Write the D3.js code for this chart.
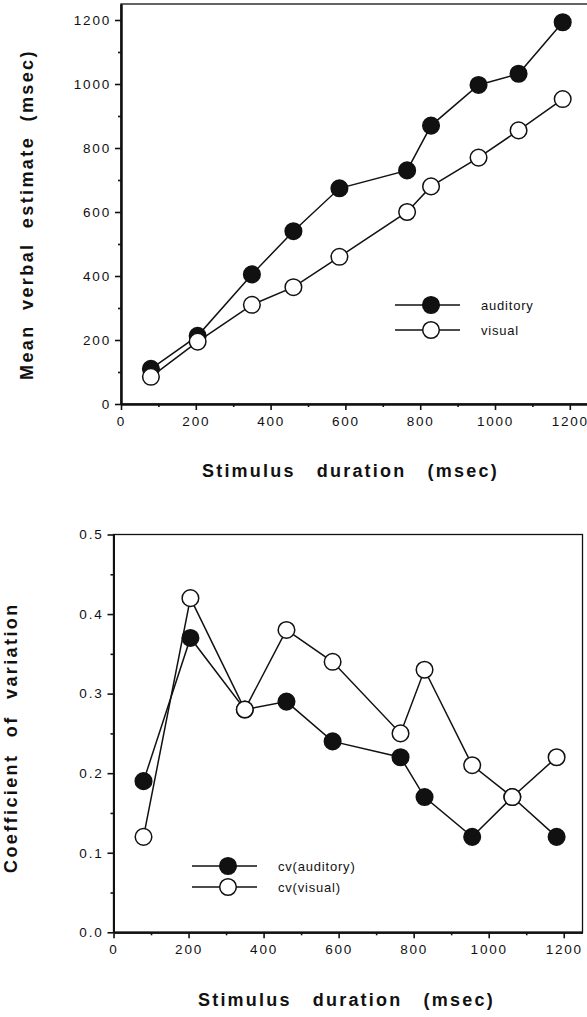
<!DOCTYPE html>
<html>
<head>
<meta charset="utf-8">
<script src="https://cdn.jsdelivr.net/npm/d3@7"></script>
<style>
  body { margin: 0; background: #fff; }
  svg { display: block; font-family: "Liberation Sans", Arial, sans-serif; }
</style>
</head>
<body>
<div id="viz-container"></div>
<script>
// stimulus durations (msec), shared by both panels
let durations = [80, 205, 350, 461, 584, 765, 829, 956, 1063, 1181];

// top panel: mean verbal estimate (msec)
let estAuditory = [110, 213, 405, 540, 674, 730, 870, 997, 1032, 1193];
let estVisual   = [85, 195, 310, 365, 460, 600, 680, 770, 855, 953];

// bottom panel: coefficient of variation
let cvAuditory = [0.19, 0.37, 0.28, 0.29, 0.24, 0.22, 0.17, 0.12, 0.17, 0.12];
let cvVisual   = [0.12, 0.42, 0.28, 0.38, 0.34, 0.25, 0.33, 0.21, 0.17, 0.22];

let xTicks = [0, 200, 400, 600, 800, 1000, 1200];
let xMinor = [100, 300, 500, 700, 900, 1100];
let estTicks = [0, 200, 400, 600, 800, 1000, 1200];
let estMinor = [100, 300, 500, 700, 900, 1100];
let cvTicks = [0, 0.1, 0.2, 0.3, 0.4, 0.5];
let cvMinor = [0.05, 0.15, 0.25, 0.35, 0.45];

let viz = d3.select("#viz-container")
    .append("svg")
        .attr("width", 587)
        .attr("height", 1017);

function panel(p) {
    let x = d3.scaleLinear().domain([0, 1250]).range([p.left, p.right]);
    let y = d3.scaleLinear().domain([0, p.ymax]).range([p.bottom, p.top]);
    let g = viz.append("g");

    // frame
    g.append("rect")
        .attr("x", p.left).attr("y", p.top)
        .attr("width", p.right - p.left).attr("height", p.bottom - p.top)
        .attr("fill", "none").attr("stroke", "#111").attr("stroke-width", 1.3);

    // x axis
    g.append("g").attr("transform", `translate(0,${p.bottom})`)
        .call(d3.axisBottom(x).tickValues(xTicks).tickSize(6).tickSizeOuter(0)
            .tickPadding(6).tickFormat(d3.format("d")));
    g.append("g").attr("transform", `translate(0,${p.bottom})`)
        .call(d3.axisBottom(x).tickValues(xMinor).tickSize(3).tickSizeOuter(0).tickFormat(""));

    // y axis
    g.append("g").attr("transform", `translate(${p.left},0)`)
        .call(d3.axisLeft(y).tickValues(p.ticks).tickSize(6).tickSizeOuter(0).tickPadding(4).tickFormat(p.fmt));
    g.append("g").attr("transform", `translate(${p.left},0)`)
        .call(d3.axisLeft(y).tickValues(p.minor).tickSize(3).tickSizeOuter(0).tickFormat(""));

    g.selectAll(".domain").attr("stroke", "#111").attr("stroke-width", 2);
    g.selectAll(".tick line").attr("stroke", "#111").attr("stroke-width", 1.6);
    g.selectAll(".tick text")
        .attr("font-size", 13.5).attr("fill", "#111")
        .style("letter-spacing", "1.8px");

    // series
    let line = d3.line().x(d => x(d[0])).y(d => y(d[1]));
    p.series.forEach(s => {
        let pts = durations.map((d, i) => [d, s.values[i]]);
        g.append("path").datum(pts)
            .attr("d", line).attr("fill", "none")
            .attr("stroke", "#111").attr("stroke-width", 1.5);
        g.selectAll(null).data(pts).enter()
            .append("circle")
                .attr("cx", d => x(d[0])).attr("cy", d => y(d[1]))
                .attr("r", 8.3)
                .attr("fill", s.fill).attr("stroke", "#111").attr("stroke-width", 1.5);
    });

    // legend
    p.series.forEach((s, i) => {
        let ly = p.legY + i * p.legGap;
        g.append("line")
            .attr("x1", p.legX).attr("x2", p.legX + 65)
            .attr("y1", ly).attr("y2", ly)
            .attr("stroke", "#111").attr("stroke-width", 1.5);
        g.append("circle")
            .attr("cx", p.legX + 36).attr("cy", ly).attr("r", 8.3)
            .attr("fill", s.fill).attr("stroke", "#111").attr("stroke-width", 1.5);
        g.append("text")
            .attr("x", p.legX + 86).attr("y", ly + 4.5)
            .attr("font-size", 13).attr("fill", "#111")
            .style("letter-spacing", "0.8px")
            .text(s.name);
    });

    // titles (start-anchored so the css spacing doesn't shift them)
    g.append("text")
        .attr("x", p.xTitleX).attr("y", p.xTitleY)
        .attr("font-size", 18).attr("font-weight", "bold").attr("fill", "#111")
        .style("letter-spacing", "2.2px").style("word-spacing", "14px")
        .text("Stimulus duration (msec)");
    g.append("text")
        .attr("transform", `translate(${p.yTitleX},${p.yTitleY}) rotate(-90)`)
        .attr("font-size", 18).attr("font-weight", "bold").attr("fill", "#111")
        .style("letter-spacing", p.yLetter).style("word-spacing", p.yWord)
        .text(p.yTitle);
}

panel({
    left: 121, right: 588.5, top: 4, bottom: 404, ymax: 1250,
    ticks: estTicks, minor: estMinor, fmt: d3.format("d"),
    series: [
        {name: "auditory", values: estAuditory, fill: "#111"},
        {name: "visual", values: estVisual, fill: "#fff"}
    ],
    legX: 395, legY: 305, legGap: 25,
    xTitleX: 202, xTitleY: 477,
    yTitleX: 33, yTitleY: 380, yLetter: "2.4px", yWord: "7px",
    yTitle: "Mean verbal estimate (msec)"
});

panel({
    left: 113.5, right: 582.5, top: 534.5, bottom: 932.3, ymax: 0.5,
    ticks: cvTicks, minor: cvMinor, fmt: d3.format(".1f"),
    series: [
        {name: "cv(auditory)", values: cvAuditory, fill: "#111"},
        {name: "cv(visual)", values: cvVisual, fill: "#fff"}
    ],
    legX: 192, legY: 866, legGap: 21,
    xTitleX: 198, xTitleY: 1006,
    yTitleX: 17, yTitleY: 873, yLetter: "2.4px", yWord: "9px",
    yTitle: "Coefficient of variation"
});
</script>
</body>
</html>
